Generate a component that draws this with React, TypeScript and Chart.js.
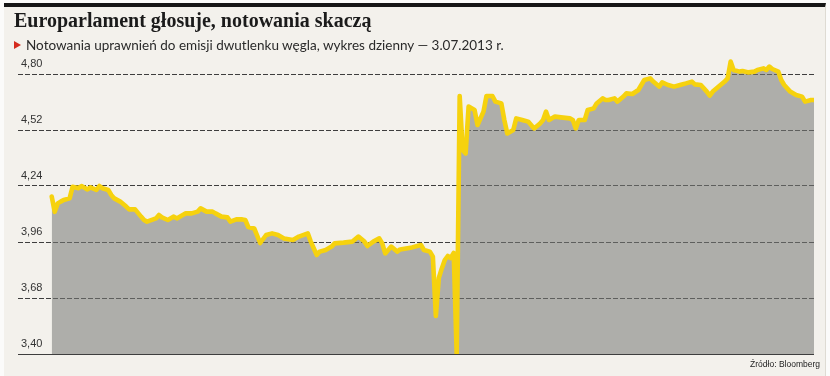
import React, { useEffect, useRef } from "react";
import { Chart, registerables } from "chart.js";

Chart.register(...registerables);

const title = "Europarlament głosuje, notowania skaczą";
const subtitle = "Notowania uprawnień do emisji dwutlenku węgla, wykres dzienny — 3.07.2013 r.";
const source = "Źródło: Bloomberg";

const yTicks = [3.4, 3.68, 3.96, 4.24, 4.52, 4.8];

const days = [
  0, 1, 2, 3, 4, 6, 7, 9, 10, 12, 13, 15, 16, 17, 19, 20, 21, 23, 25, 26, 28, 30, 31, 32,
  35, 36, 37, 39, 41, 42, 44, 45, 47, 49, 50, 52, 54, 55, 57, 59, 60, 62, 64, 65, 66, 68,
  70, 72, 74, 76, 78, 81, 83, 86, 87, 89, 90, 92, 94, 95, 98, 101, 103, 105, 106, 108,
  110, 111, 112, 114, 116, 117, 119, 121, 124, 125, 127, 128, 129, 130, 131, 132, 133,
  134, 135, 136, 137, 138, 139, 140, 142, 143, 145, 146, 148, 149, 151, 152, 153, 155,
  156, 158, 160, 162, 164, 165, 166, 167, 169, 171, 174, 175, 176, 177, 179, 180, 182,
  183, 185, 186, 187, 189, 190, 192, 193, 195, 197, 199, 201, 202, 204, 205, 207, 209,
  211, 213, 215, 216, 218, 220, 221, 222, 224, 226, 227, 228, 229, 231, 232, 234, 236,
  237, 239, 240, 241, 242, 244, 245, 246, 248, 250, 252, 253, 255, 256,
];

const prices = [
  4.187, 4.111, 4.153, 4.162, 4.17, 4.178, 4.236, 4.229, 4.24, 4.223, 4.233, 4.22, 4.24,
  4.229, 4.22, 4.195, 4.178, 4.162, 4.137, 4.123, 4.123, 4.087, 4.07, 4.062,
  4.078, 4.095, 4.083, 4.07, 4.087, 4.078, 4.095, 4.103, 4.103, 4.112, 4.128, 4.112,
  4.112, 4.103, 4.087, 4.083, 4.062, 4.073, 4.073, 4.07, 4.035, 4.028,
  3.955, 3.995, 4.003, 3.995, 3.978, 3.97, 3.987, 4.003, 3.962, 3.895, 3.912, 3.92,
  3.937, 3.953, 3.957, 3.962, 3.987, 3.962, 3.94, 3.962,
  3.978, 3.953, 3.903, 3.937, 3.912, 3.923, 3.928, 3.933, 3.945, 3.92, 3.912, 3.887,
  3.59, 3.78, 3.828, 3.87, 3.89,
  3.88, 3.905, 3.4, 4.69, 4.42, 4.403, 4.637, 4.62, 4.545, 4.612, 4.69, 4.69, 4.662,
  4.653, 4.57, 4.503, 4.52,
  4.578, 4.57, 4.562, 4.528, 4.553, 4.57, 4.612, 4.57, 4.587, 4.583, 4.578, 4.57, 4.528,
  4.57, 4.57, 4.62, 4.628,
  4.653, 4.678, 4.67, 4.67, 4.678, 4.662, 4.687, 4.703, 4.7, 4.72, 4.77, 4.778, 4.762,
  4.737, 4.758, 4.745, 4.737,
  4.745, 4.753, 4.762, 4.748, 4.745, 4.712, 4.692, 4.712, 4.737, 4.762, 4.778, 4.862,
  4.82, 4.812, 4.815, 4.808, 4.812,
  4.82, 4.828, 4.82, 4.837, 4.825, 4.812, 4.77, 4.745, 4.712, 4.695, 4.687, 4.662, 4.67,
  4.67,
];

export default function App() {
  const ref = useRef<HTMLCanvasElement>(null);

  useEffect(() => {
    if (!ref.current) return;
    const chart = new Chart(ref.current, {
      type: "line",
      data: {
        datasets: [
          {
            data: days.map((d, i) => ({ x: d, y: prices[i] })),
            borderColor: "#f6d20e",
            borderWidth: 4.6,
            backgroundColor: "rgba(120,122,118,0.56)",
            fill: "start",
            pointRadius: 0,
            tension: 0,
            borderJoinStyle: "round",
            borderCapStyle: "round",
          },
        ],
      },
      options: {
        animation: false,
        responsive: false,
        maintainAspectRatio: false,
        layout: { padding: { left: 12, right: 16, top: 54, bottom: 22 } },
        plugins: { legend: { display: false }, tooltip: { enabled: false } },
        scales: {
          x: { type: "linear", min: -11.33, max: 256, display: false },
          y: {
            min: 3.4,
            max: 4.9,
            afterBuildTicks: (s: any) => {
              s.ticks = yTicks.map((v) => ({ value: v }));
            },
            ticks: {
              mirror: true,
              padding: 3,
              labelOffset: -10,
              color: "#333",
              font: { family: "'Liberation Sans', Arial, sans-serif", size: 11 },
              callback: (v: any) => Number(v).toFixed(2).replace(".", ","),
            },
            grid: { color: "#3e3e3e", lineWidth: 1, drawTicks: false },
            border: {
              display: false,
              dash: (ctx: any) => (ctx.tick && Math.abs(ctx.tick.value - 3.4) < 1e-6 ? [] : [5, 2]),
            },
          },
        },
      },
    });
    return () => chart.destroy();
  }, []);

  return (
    <div style={{ position: "fixed", left: 0, top: 0, width: 830, height: 376, background: "#fbfbfa", overflow: "hidden" }}>
      <div
        style={{
          position: "absolute",
          left: 4,
          top: 3,
          width: 822,
          height: 373,
          background: "#f3f1ec",
          borderTop: "4px solid #161616",
          borderRight: "1px solid #dedbd3",
          boxSizing: "border-box",
        }}
      />
      <canvas ref={ref} width={830} height={376} style={{ position: "absolute", left: 0, top: 0, width: 830, height: 376 }} />
      <div
        style={{
          position: "absolute",
          left: 14,
          top: 10,
          fontFamily: "'Liberation Serif', serif",
          fontWeight: "bold",
          fontSize: 20,
          lineHeight: "21px",
          color: "#1b1b1b",
          whiteSpace: "nowrap",
        }}
      >
        {title}
      </div>
      <div
        style={{
          position: "absolute",
          left: 14,
          top: 37,
          fontFamily: "Lato, sans-serif",
          fontSize: 13.5,
          lineHeight: "16px",
          color: "#2a2a2a",
          whiteSpace: "nowrap",
          display: "flex",
          alignItems: "center",
        }}
      >
        <span
          style={{
            display: "inline-block",
            width: 0,
            height: 0,
            borderTop: "4px solid transparent",
            borderBottom: "4px solid transparent",
            borderLeft: "7px solid #d52b1e",
            marginRight: 5,
          }}
        />
        <span>{subtitle}</span>
      </div>
      <div
        style={{
          position: "absolute",
          right: 10,
          top: 359,
          fontFamily: "'Liberation Sans', Arial, sans-serif",
          fontSize: 8.5,
          lineHeight: "10px",
          color: "#222",
          whiteSpace: "nowrap",
        }}
      >
        {source}
      </div>
    </div>
  );
}
